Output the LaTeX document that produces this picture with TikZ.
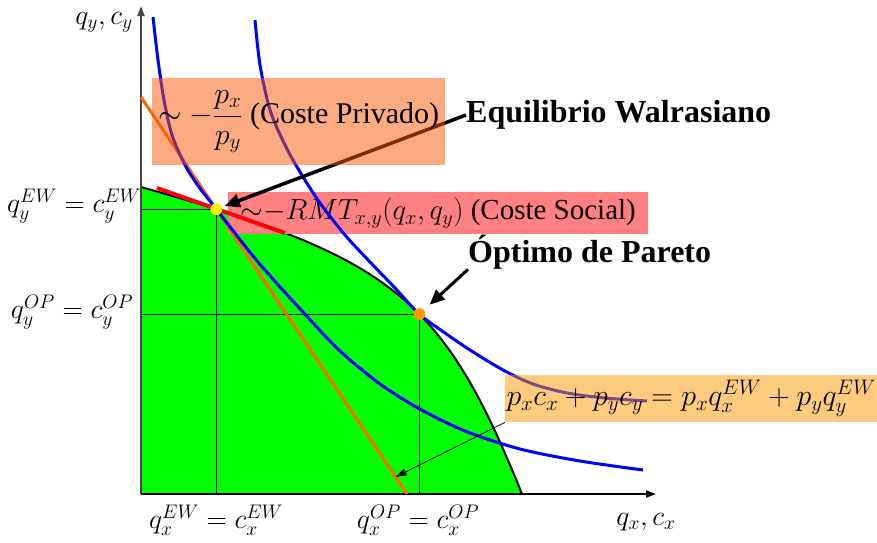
\documentclass[tikz,border=0pt]{standalone}
\usepackage{fix-cm}
\usepackage{amsmath,amssymb}
\usepackage{fontspec}
\setmainfont{Liberation Serif}
\usetikzlibrary{arrows.meta,calc}
\definecolor{verde}{RGB}{0,255,0}
\definecolor{naranja}{RGB}{255,102,0}
\definecolor{cajaA}{RGB}{248,88,0}
\definecolor{cajaB}{RGB}{255,153,0}
\definecolor{rosa}{RGB}{255,128,128}
\definecolor{ejegris}{RGB}{70,70,70}

\begin{document}
\begin{tikzpicture}[x=1pt,y=-1pt,
	every node/.style={font=\fontsize{28}{32}\selectfont,inner sep=0pt},
	eje/.style={line width=1.5pt,-{Triangle[length=10pt,width=7pt]}},
	guia/.style={line width=0.8pt},
	indif/.style={blue,line width=3pt},
	caja/.style={anchor=north west,fill opacity=0.5,text opacity=1,font=\fontsize{30}{34}\selectfont},
	rotulo/.style={anchor=west,font=\fontsize{32}{36}\selectfont\bfseries},
	flecha/.style={line width=3.5pt,-{Triangle[length=15pt,width=13pt]}}]
	\useasboundingbox (0,0) rectangle (877,542);
	\coordinate (O) at (141,494);
	\coordinate (ytop) at (141,6);
	\coordinate (xend) at (656,494);
	\fill[verde] (O) -- (141,187) .. controls (390,257) and (442,295) .. (522,494)
		coordinate[pos=0.11] (EW) coordinate[pos=0.58] (OP) -- cycle;
	\draw[guia] (O |- EW) -- (EW) -- (EW |- O);
	\draw[guia] (O |- OP) -- (OP) -- (OP |- O);
	\draw[line width=2pt] (141,187) .. controls (390,257) and (442,295) .. (522,494);
	\draw[eje,ejegris,line width=2pt] (O) -- (ytop);
	\draw[eje] (O) -- (xend);
	\node[caja,fill=rosa,fill opacity=1,minimum width=420pt,minimum height=42pt,font=\fontsize{29}{32}\selectfont] (social) at (228,192) {${\sim}{-}RMT_{x,y}(q_x,q_y)$ (Coste Social)};
	\coordinate (pa) at (141,97);
	\coordinate (pb) at (407,494);
	\draw[naranja,line width=3pt] (pa) -- (pb);
	\coordinate (ra) at (157,188);
	\coordinate (rb) at (285,233);
	\draw[red,line width=4pt] (ra) -- (rb);
	\draw[indif] plot[smooth,tension=0.5] coordinates {(153,17) (158,60) (164,100) (172,135) (185,165) (199,187) (EW) (258,262) (302,311) (340,351) (380,384) (418,408) (465,431) (520,449) (580,461) (643,470)};
	\draw[indif] plot[smooth,tension=0.5] coordinates {(255,20) (260,65) (270,110) (285,145) (300,172) (320,203) (345,235) (370,262) (395,288) (OP) (445,333) (470,350) (503,370) (533,384) (567,393) (605,398) (647,401)};
	\node[rotulo] (walras) at (466,115) {Equilibrio Walrasiano};
	\draw[flecha,shorten >=9pt] (walras.west) -- (EW);
	\node[caja,fill=cajaA,minimum width=293pt,minimum height=87pt] (privado) at (152,78) {$\sim -\dfrac{p_x}{p_y}$ (Coste Privado)};
	\node[caja,fill=cajaB,minimum width=372pt,minimum height=47pt] (presup) at (505,375) {$p_xc_x+p_yc_y=p_xq_x^{EW}+p_yq_y^{EW}$};
	\fill[yellow] (EW) circle (6pt);
	\fill[cajaB] (OP) circle (6pt);
	\node[rotulo] (pareto) at (468,252) {Óptimo de Pareto};
	\draw[flecha,line width=3pt,shorten >=14pt] (pareto.south west) -- (OP);
	\coordinate (pres) at ($(pa)!0.957!(pb)$);
	\draw[line width=0.8pt,-{Triangle[length=11pt,width=7pt]}] (presup.south west) -- (pres);
	\node (ylab) at (104,22) {$q_y,c_y$};
	\node (xlab) at (646,522) {$q_x,c_x$};
	\node (qyew) at (74,206) {$q_y^{EW}=c_y^{EW}$};
	\node (qyop) at (72,312) {$q_y^{OP}=c_y^{OP}$};
	\node (qxew) at (216,520) {$q_x^{EW}=c_x^{EW}$};
	\node (qxop) at (418,520) {$q_x^{OP}=c_x^{OP}$};
\end{tikzpicture}
\end{document}
